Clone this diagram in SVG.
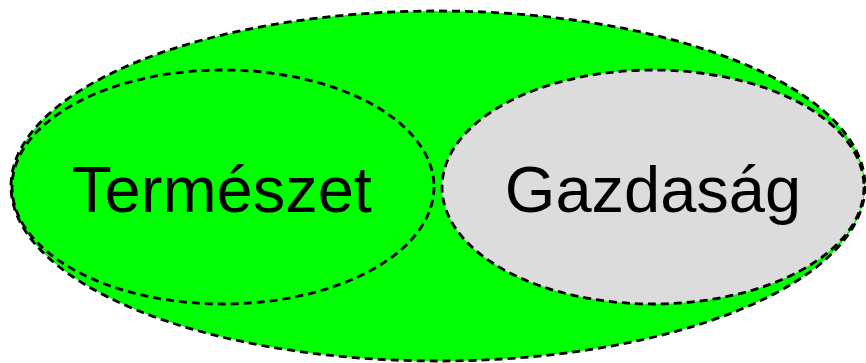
<svg xmlns="http://www.w3.org/2000/svg" width="866" height="363" viewBox="0 0 866 363">
<style>
.e{stroke:#000;stroke-width:2.8;stroke-dasharray:8,5}
.t{font-family:"Liberation Sans",Arial,sans-serif;font-size:65px;fill:#000;text-anchor:middle}
</style>
<rect width="866" height="363" fill="#fff"/>
<g id="outer"><ellipse class="e" cx="438" cy="186" rx="427" ry="175" fill="#00ff00"/></g>
<g id="gazdasag"><ellipse class="e" cx="653" cy="187" rx="211" ry="117" fill="#dcdcdc"/><text class="t" x="653" y="212">Gazdaság</text></g>
<g id="termeszet"><ellipse class="e" cx="223" cy="187" rx="211" ry="117" fill="none"/><text class="t" x="222" y="212">Természet</text></g>
<g id="connectors"/>
</svg>
